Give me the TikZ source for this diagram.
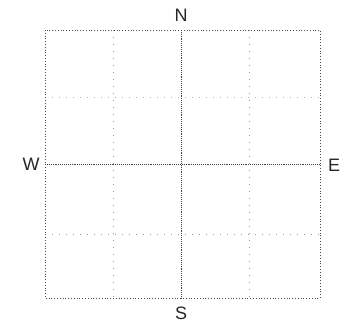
\documentclass[tikz,border=0pt]{standalone}
\usepackage{fontspec}
\setmainfont{Liberation Sans}
\begin{document}
\begin{tikzpicture}[x=1pt,y=-1pt,
  frame/.style={draw=black!70,line width=0.8pt,dotted},
  midline/.style={draw=black!75,line width=0.9pt,densely dotted},
  quarter/.style={draw=black!40,line width=0.7pt,dash pattern=on 1pt off 6pt},
  lbl/.style={font=\fontsize{18}{18}\selectfont,text=black!85,inner sep=0pt}]
\useasboundingbox (0,0) rectangle (344,328);
\coordinate (tl) at (45,30);
\coordinate (br) at (320,298);
\draw[quarter] (113,30) -- (113,298);
\draw[quarter] (249,30) -- (249,298);
\draw[quarter,draw=black!30] (45,97) -- (320,97);
\draw[quarter] (45,234) -- (320,234);
\draw[midline] (181,30) -- (181,298);
\draw[midline] (45,164) -- (320,164);
\draw[frame] (tl) rectangle (br);
\node[lbl] (n) at (181,15) {N};
\node[lbl] (s) at (181,313) {S};
\node[lbl] (w) at (31,164) {W};
\node[lbl] (e) at (334,165) {E};
\end{tikzpicture}
\end{document}
